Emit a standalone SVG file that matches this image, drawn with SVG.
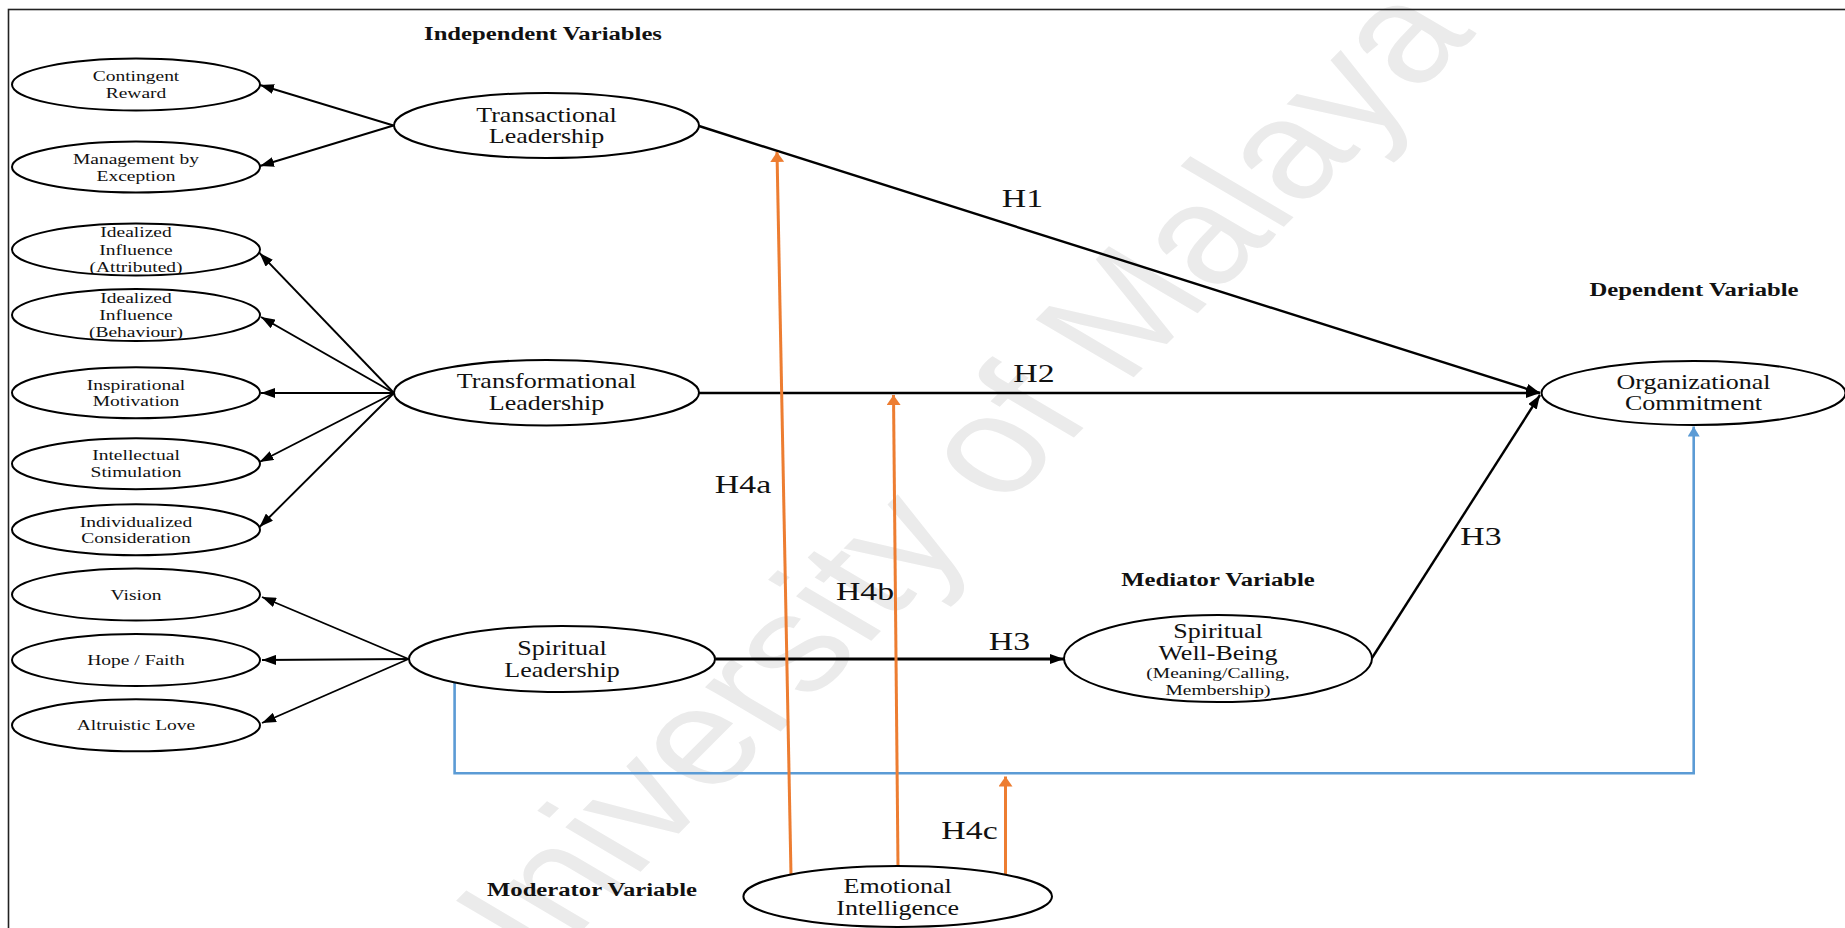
<svg xmlns="http://www.w3.org/2000/svg" width="1845" height="928" viewBox="0 0 1845 928">
  <style>
    .frame { fill: none; stroke: #222; stroke-width: 1.6; }
    .node ellipse { fill: none; stroke: #000; stroke-width: 2; }
    text { font-family: "Liberation Serif", "Times New Roman", serif; fill: #111; text-anchor: middle; }
    .big { font-size: 20px; }
    .small { font-size: 15px; }
    .head { font-size: 19px; font-weight: bold; }
    .hyp { font-size: 26px; }
    .wm { font-family: "Liberation Sans", Arial, sans-serif; font-size: 138px; fill: #ebebeb; text-anchor: start; }
    .ind { stroke: #000; stroke-width: 1.9; fill: none; marker-end: url(#arrowBlack); }
    .path { stroke: #000; stroke-width: 2.4; fill: none; marker-end: url(#arrowBlack); }
    .mod { stroke: #ED7D31; stroke-width: 3; fill: none; marker-end: url(#arrowOrange); }
    .direct { stroke: #5B9BD5; stroke-width: 2.6; fill: none; marker-end: url(#arrowBlue); }
  </style>
  <defs>
    <marker id="arrowBlack" markerUnits="userSpaceOnUse" markerWidth="14" markerHeight="10" refX="14" refY="5" orient="auto">
      <path d="M0,0 L14,5 L0,10 z" fill="#000"/>
    </marker>
    <marker id="arrowOrange" markerUnits="userSpaceOnUse" markerWidth="10" markerHeight="14" refX="10" refY="7" orient="auto">
      <path d="M0,0 L10,7 L0,14 z" fill="#ED7D31"/>
    </marker>
    <marker id="arrowBlue" markerUnits="userSpaceOnUse" markerWidth="10" markerHeight="12" refX="10" refY="6" orient="auto">
      <path d="M0,0 L10,6 L0,12 z" fill="#5B9BD5"/>
    </marker>
  </defs>

  <rect width="1845" height="928" fill="#fff"/>

  <!-- background watermark -->
  <text class="wm" transform="scale(1.3 1) translate(379.8 1019) rotate(-52.5)">University of Malaya</text>

  <!-- outer frame -->
  <rect class="frame" x="8.5" y="9.5" width="1900" height="1000"/>

  <!-- section headings -->
  <g id="headings">
    <text class="head" transform="translate(543 0) scale(1.3 1)" y="40">Independent Variables</text>
    <text class="head" transform="translate(1694 0) scale(1.3 1)" y="296.5">Dependent Variable</text>
    <text class="head" transform="translate(1218 0) scale(1.3 1)" y="586">Mediator Variable</text>
    <text class="head" transform="translate(592 0) scale(1.3 1)" y="896">Moderator Variable</text>
  </g>

  <!-- connectors -->
  <g id="connectors">
    <!-- indicators of transactional leadership -->
    <path class="ind" d="M393.5 125.5 L260 85"/>
    <path class="ind" d="M393.5 125.5 L260 166"/>
    <!-- indicators of transformational leadership -->
    <path class="ind" d="M394 393 L259.5 253"/>
    <path class="ind" d="M394 393 L261 317"/>
    <path class="ind" d="M394 393 L261 393"/>
    <path class="ind" d="M394 393 L259.5 462"/>
    <path class="ind" d="M394 393 L259.5 527"/>
    <!-- indicators of spiritual leadership -->
    <path class="ind" d="M408.5 659 L262 597"/>
    <path class="ind" d="M408.5 659 L262 660"/>
    <path class="ind" d="M408.5 659 L262 723"/>
    <!-- hypothesised paths -->
    <path class="path" d="M699 126 L1540 393"/>
    <path class="path" d="M699 393 L1540 393"/>
    <path class="path" d="M1372 658 L1540 395"/>
    <path class="path" style="stroke-width:2.9" d="M715.5 659 L1064 659"/>
    <!-- direct path spiritual leadership to commitment -->
    <path class="direct" d="M454.6 682.5 V773.3 H1693.7 V426.5"/>
    <!-- moderation by emotional intelligence -->
    <path class="mod" d="M791 875 L777 152"/>
    <path class="mod" d="M898 866.5 L893.5 395"/>
    <path class="mod" d="M1005.5 875 L1005.5 776.5"/>
  </g>

  <!-- hypothesis labels -->
  <g id="labels">
    <text class="hyp" transform="translate(1022.5 0) scale(1.3 1)" y="207">H1</text>
    <text class="hyp" transform="translate(1034 0) scale(1.3 1)" y="382">H2</text>
    <text class="hyp" transform="translate(1481 0) scale(1.3 1)" y="545.5">H3</text>
    <text class="hyp" transform="translate(1009.5 0) scale(1.3 1)" y="650">H3</text>
    <text class="hyp" transform="translate(743 0) scale(1.3 1)" y="493">H4a</text>
    <text class="hyp" transform="translate(865 0) scale(1.3 1)" y="600.5">H4b</text>
    <text class="hyp" transform="translate(969.5 0) scale(1.3 1)" y="839">H4c</text>
  </g>

  <!-- transactional leadership dimensions -->
  <g id="contingent-reward" class="node">
    <ellipse cx="136" cy="84.5" rx="124" ry="26"/>
    <g transform="translate(136 0) scale(1.3 1)" class="small">
      <text y="81.5">Contingent</text>
      <text y="98">Reward</text>
    </g>
  </g>
  <g id="management-by-exception" class="node">
    <ellipse cx="136" cy="167" rx="124" ry="25.5"/>
    <g transform="translate(136 0) scale(1.3 1)" class="small">
      <text y="164.5">Management by</text>
      <text y="181">Exception</text>
    </g>
  </g>

  <!-- transformational leadership dimensions -->
  <g id="idealized-influence-attributed" class="node">
    <ellipse cx="136" cy="249.5" rx="124" ry="26"/>
    <g transform="translate(136 0) scale(1.3 1)" class="small">
      <text y="237.5">Idealized</text>
      <text y="255">Influence</text>
      <text y="272.5">(Attributed)</text>
    </g>
  </g>
  <g id="idealized-influence-behaviour" class="node">
    <ellipse cx="136" cy="315" rx="124" ry="26"/>
    <g transform="translate(136 0) scale(1.3 1)" class="small">
      <text y="303">Idealized</text>
      <text y="320">Influence</text>
      <text y="337">(Behaviour)</text>
    </g>
  </g>
  <g id="inspirational-motivation" class="node">
    <ellipse cx="136" cy="392.7" rx="124" ry="25.5"/>
    <g transform="translate(136 0) scale(1.3 1)" class="small">
      <text y="390">Inspirational</text>
      <text y="406.5">Motivation</text>
    </g>
  </g>
  <g id="intellectual-stimulation" class="node">
    <ellipse cx="136" cy="463.8" rx="124" ry="25.5"/>
    <g transform="translate(136 0) scale(1.3 1)" class="small">
      <text y="460.5">Intellectual</text>
      <text y="477">Stimulation</text>
    </g>
  </g>
  <g id="individualized-consideration" class="node">
    <ellipse cx="136" cy="529.7" rx="124" ry="25.5"/>
    <g transform="translate(136 0) scale(1.3 1)" class="small">
      <text y="527">Individualized</text>
      <text y="543.5">Consideration</text>
    </g>
  </g>

  <!-- spiritual leadership dimensions -->
  <g id="vision" class="node">
    <ellipse cx="136" cy="594.5" rx="124" ry="26"/>
    <text class="small" transform="translate(136 0) scale(1.3 1)" y="600">Vision</text>
  </g>
  <g id="hope-faith" class="node">
    <ellipse cx="136" cy="660" rx="124" ry="26"/>
    <text class="small" transform="translate(136 0) scale(1.3 1)" y="665">Hope / Faith</text>
  </g>
  <g id="altruistic-love" class="node">
    <ellipse cx="136" cy="725.3" rx="124" ry="26"/>
    <text class="small" transform="translate(136 0) scale(1.3 1)" y="730">Altruistic Love</text>
  </g>

  <!-- constructs -->
  <g id="transactional-leadership" class="node">
    <ellipse cx="546.5" cy="125.5" rx="152.5" ry="32.5"/>
    <g transform="translate(546.5 0) scale(1.3 1)" class="big">
      <text y="122.5">Transactional</text>
      <text y="143.5">Leadership</text>
    </g>
  </g>
  <g id="transformational-leadership" class="node">
    <ellipse cx="546.5" cy="392.7" rx="152.5" ry="32.7"/>
    <g transform="translate(546.5 0) scale(1.3 1)" class="big">
      <text y="388.5">Transformational</text>
      <text y="410">Leadership</text>
    </g>
  </g>
  <g id="spiritual-leadership" class="node">
    <ellipse cx="562" cy="659" rx="153" ry="33"/>
    <g transform="translate(562 0) scale(1.3 1)" class="big">
      <text y="655.5">Spiritual</text>
      <text y="677">Leadership</text>
    </g>
  </g>
  <g id="spiritual-well-being" class="node">
    <ellipse cx="1218" cy="658.5" rx="154" ry="43.5"/>
    <g transform="translate(1218 0) scale(1.3 1)">
      <text class="big" y="638.5">Spiritual</text>
      <text class="big" y="660">Well-Being</text>
      <text class="small" y="678">(Meaning/Calling,</text>
      <text class="small" y="695">Membership)</text>
    </g>
  </g>
  <g id="organizational-commitment" class="node">
    <ellipse cx="1693.5" cy="393" rx="152" ry="32"/>
    <g transform="translate(1693.5 0) scale(1.3 1)" class="big">
      <text y="389">Organizational</text>
      <text y="410">Commitment</text>
    </g>
  </g>
  <g id="emotional-intelligence" class="node">
    <ellipse cx="897.7" cy="896.5" rx="154.3" ry="30.5"/>
    <g transform="translate(897.7 0) scale(1.3 1)" class="big">
      <text y="893">Emotional</text>
      <text y="915">Intelligence</text>
    </g>
  </g>
</svg>
